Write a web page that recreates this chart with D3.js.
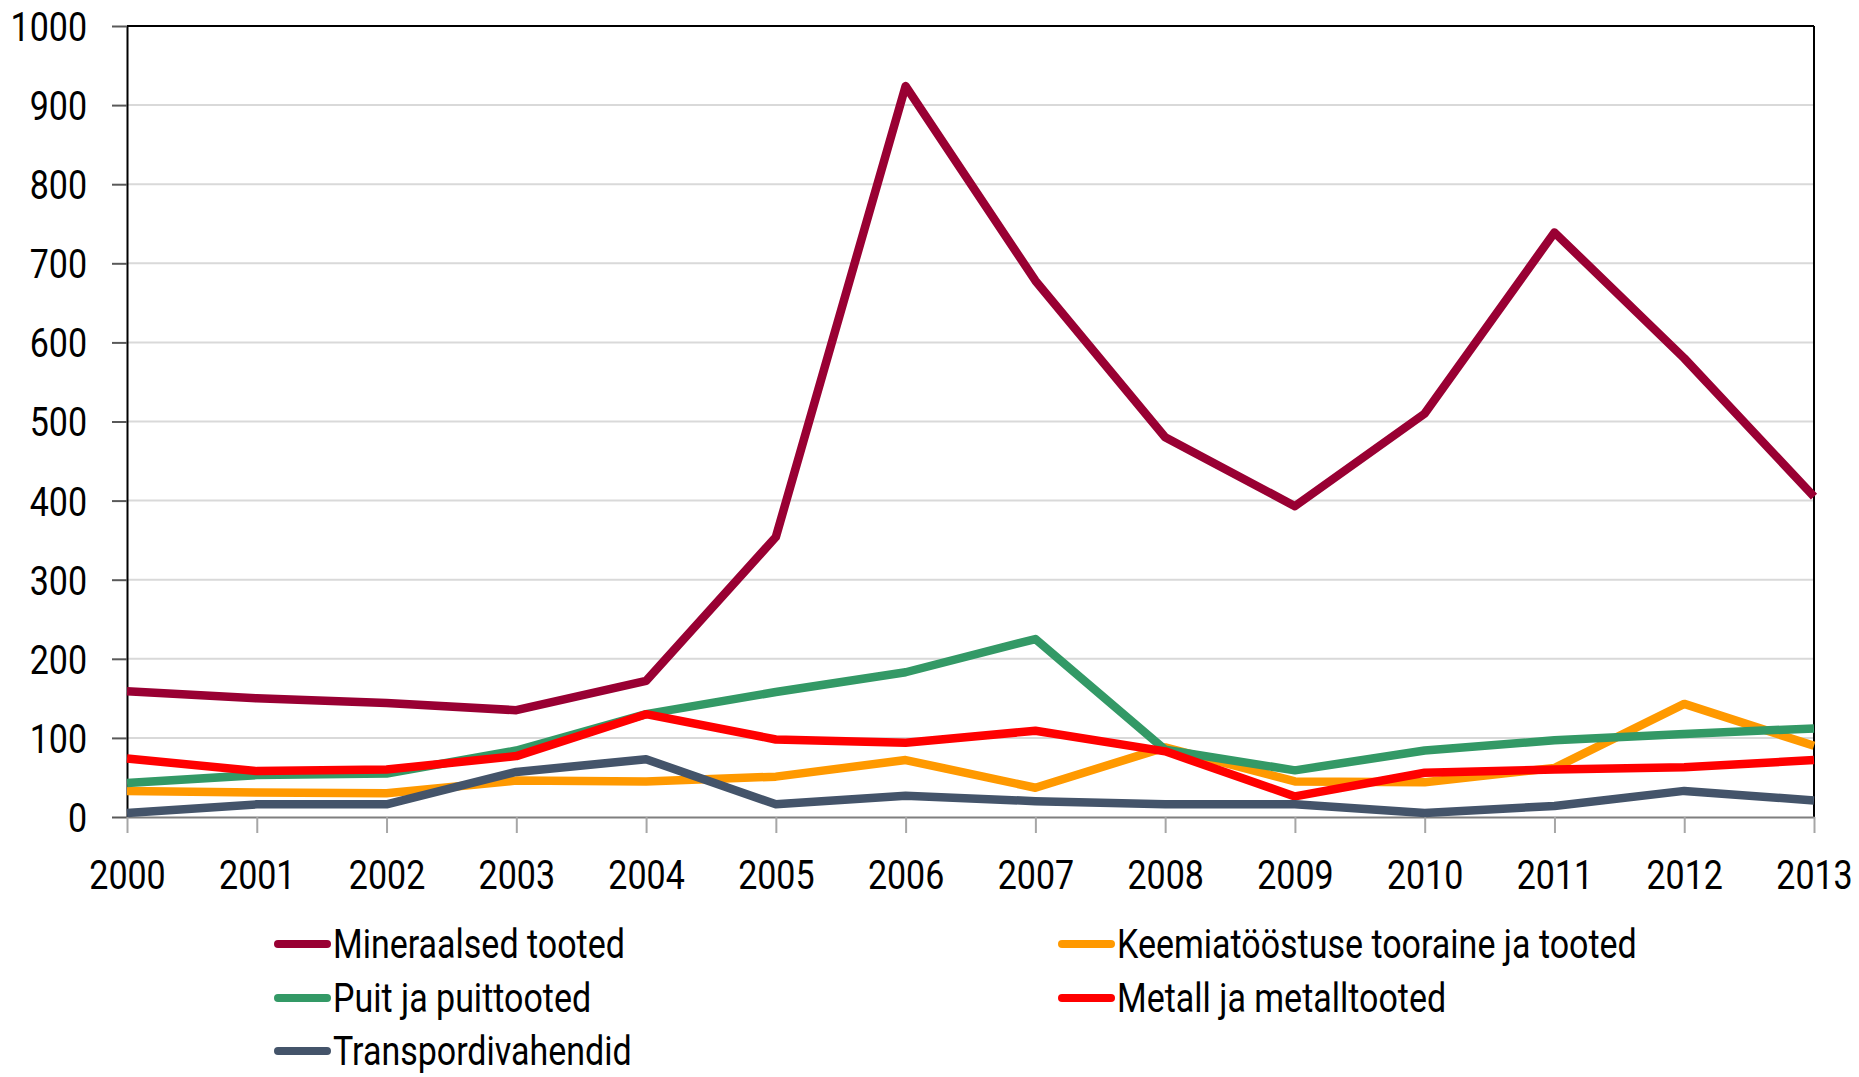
<!DOCTYPE html>
<html>
<head>
<meta charset="utf-8">
<script src="https://d3js.org/d3.v7.min.js"></script>
<style>
  body { margin: 0; background: #fff; }
  svg { display: block; }
  .lbl { font-family: 'Roboto', 'Liberation Sans', sans-serif; fill: #000; }
</style>
</head>
<body>
<div id="chart"></div>
<script>
  var years = [2000, 2001, 2002, 2003, 2004, 2005, 2006, 2007, 2008, 2009, 2010, 2011, 2012, 2013];
  var yTicks = [0, 100, 200, 300, 400, 500, 600, 700, 800, 900, 1000];

  var seriesNames = ["Mineraalsed tooted", "Keemiatööstuse tooraine ja tooted", "Puit ja puittooted",
    "Metall ja metalltooted", "Transpordivahendid"];
  var seriesColors = ["#990033", "#FF9900", "#339966", "#FF0000", "#44546A"];

  var mineraalsed = [159, 150, 144, 135, 172, 354, 924, 678, 480, 393, 510, 739, 580, 405];
  var keemia      = [33, 31, 30, 46, 45, 51, 72, 37, 88, 45, 44, 62, 143, 90];
  var puit        = [43, 53, 55, 84, 130, 158, 183, 225, 85, 59, 84, 97, 105, 112];
  var metall      = [74, 58, 60, 77, 130, 98, 94, 109, 83, 26, 56, 60, 63, 72];
  var transport   = [5, 16, 16, 57, 73, 16, 27, 20, 16, 16, 5, 14, 33, 21];

  var seriesValues = [mineraalsed, keemia, puit, metall, transport];

  var W = 1859, H = 1077;
  var margin = {top: 26, right: 45, bottom: 260, left: 127};
  var width = W - margin.left - margin.right,
      height = H - margin.top - margin.bottom;

  // condensed look: wide font squeezed horizontally
  var squeeze = 0.85, fontSize = "40px";

  var svg = d3.select("#chart").append("svg")
    .attr("width", W)
    .attr("height", H);

  var g = svg.append("g")
    .attr("transform", "translate(" + margin.left + "," + margin.top + ")");

  var x = d3.scaleLinear().domain([2000, 2013]).range([0, width]);
  var y = d3.scaleLinear().domain([0, 1000]).range([height, 0]);

  // gridlines
  g.append("g")
    .selectAll("line")
    .data(yTicks.filter(d => d > 0 && d < 1000))
    .enter().append("line")
    .attr("x1", 0).attr("x2", width)
    .attr("y1", d => y(d)).attr("y2", d => y(d))
    .attr("stroke", "#d9d9d9")
    .attr("stroke-width", 2);

  // top and right border
  g.append("line").attr("x1", 0).attr("x2", width).attr("y1", 0).attr("y2", 0)
    .attr("stroke", "#000").attr("stroke-width", 2);
  g.append("line").attr("x1", width).attr("x2", width).attr("y1", 0).attr("y2", height)
    .attr("stroke", "#000").attr("stroke-width", 2);

  // y axis
  var yAxis = g.append("g")
    .call(d3.axisLeft(y).tickValues(yTicks).tickFormat(d3.format("d"))
      .tickSize(15).tickPadding(24).tickSizeOuter(0));
  yAxis.select(".domain").attr("stroke", "#000").attr("stroke-width", 2);
  yAxis.selectAll(".tick line").attr("stroke", "#595959").attr("stroke-width", 2);
  yAxis.selectAll(".tick text")
    .attr("class", "lbl")
    .style("font-size", fontSize)
    .attr("dy", "0.36em")
    .attr("x", -40 / squeeze)
    .attr("transform", "scale(" + squeeze + ",1)");

  // x axis
  var xAxis = g.append("g")
    .attr("transform", "translate(0," + height + ")")
    .call(d3.axisBottom(x).tickValues(years).tickFormat(d3.format("d"))
      .tickSize(16).tickPadding(28).tickSizeOuter(0));
  xAxis.select(".domain").attr("stroke", "#7f7f7f").attr("stroke-width", 2);
  xAxis.selectAll(".tick line").attr("stroke", "#a6a6a6").attr("stroke-width", 2);
  xAxis.selectAll(".tick text")
    .attr("class", "lbl")
    .style("font-size", fontSize)
    .attr("transform", "scale(" + squeeze + ",1)");

  // lines
  var line = d3.line()
    .x((d, i) => x(years[i]))
    .y(d => y(d));

  g.append("g")
    .selectAll("path")
    .data(seriesValues)
    .enter().append("path")
    .attr("d", d => line(d))
    .attr("fill", "none")
    .attr("stroke", (d, i) => seriesColors[i])
    .attr("stroke-width", 8.5)
    .attr("stroke-linejoin", "round");

  // legend
  var legendPos = [[275, 944], [1059, 944], [275, 998], [1059, 998], [275, 1051]];
  var legend = svg.append("g")
    .selectAll("g")
    .data(seriesNames)
    .enter().append("g")
    .attr("transform", (d, i) => "translate(" + legendPos[i][0] + "," + legendPos[i][1] + ")");

  legend.append("line")
    .attr("x1", 3).attr("x2", 52)
    .attr("y1", 0).attr("y2", 0)
    .attr("stroke", (d, i) => seriesColors[i])
    .attr("stroke-width", 8)
    .attr("stroke-linecap", "round");

  legend.append("text")
    .attr("class", "lbl")
    .attr("transform", "translate(58,0) scale(" + squeeze + ",1)")
    .attr("dy", "0.36em")
    .style("font-size", fontSize)
    .text(d => d);
</script>
</body>
</html>
